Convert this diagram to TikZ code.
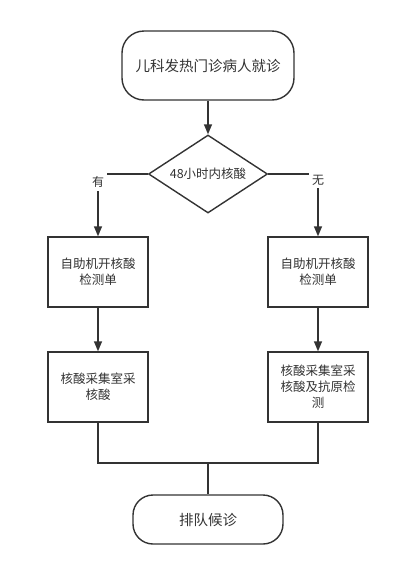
\documentclass[tikz,border=0pt]{standalone}
\usepackage{fontspec}
\newfontfamily\cjk{Noto Sans CJK SC}
\usetikzlibrary{shapes.geometric,arrows.meta}
\definecolor{gris}{HTML}{333333}

\tikzset{boite/.style = {rectangle, draw, minimum width=100pt, minimum height=70pt,
                         inner sep=0pt, align=center,
                         font=\cjk\fontsize{12.5}{16}\selectfont},
         terminal/.style = {rectangle, draw, rounded corners=#1, inner sep=0pt,
                            font=\cjk\fontsize{14.5}{18}\selectfont},
         terminal/.default=20pt,
         losange/.style = {diamond, draw, aspect=1.53, minimum width=119pt,
                           minimum height=78pt, inner sep=0pt,
                           font=\cjk\fontsize{12.5}{16}\selectfont},
         choix/.style = {fill=white, inner sep=3pt, font=\cjk\fontsize{12}{14}\selectfont},
         fleche/.style = {-{Triangle[length=10pt,width=8pt]}}
        }

\begin{document}
\begin{tikzpicture}[x=1pt, y=-1pt, line width=1.4pt, draw=gris, text=gris]
\useasboundingbox (0,0) rectangle (400,576);
\node[terminal=22pt, minimum width=172pt, minimum height=69pt] at (208,65.5) (deb) {儿科发热门诊病人就诊};
\node[losange] at (208,174) (q) {48小时内核酸};
\node[boite] at (98,272) (g1) {自助机开核酸\\检测单};
\node[boite] at (318,272) (d1) {自助机开核酸\\检测单};
\node[boite] at (98,387) (g2) {核酸采集室采\\核酸};
\node[boite] at (318,387) (d2) {核酸采集室采\\核酸及抗原检\\测};
\node[terminal, minimum width=150pt, minimum height=49pt] at (208,519.5) (fin) {排队候诊};
\coordinate (j) at (208,463);
\draw[fleche] (deb) -- (q);
\draw[fleche] (q.west) -| node[choix, yshift=-8pt] {有} (g1.north);
\draw[fleche] (q.east) -| node[choix, yshift=-6pt] {无} (d1.north);
\draw[fleche] (g1) -- (g2);
\draw[fleche] (d1) -- (d2);
\draw (g2.south) |- (j) -| (d2.south);
\draw (j) -- (fin);
\end{tikzpicture}
\end{document}
